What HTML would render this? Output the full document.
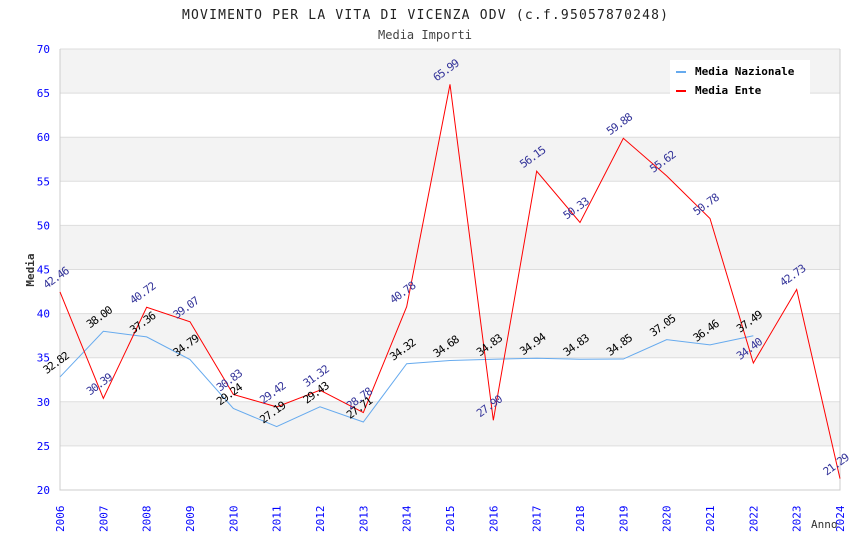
<!DOCTYPE html>
<html><head><meta charset="utf-8"><style>
body{margin:0;background:#fff;}
svg{display:block;font-family:"DejaVu Sans Mono","Liberation Mono",monospace;}
</style></head><body>
<svg id="chart" width="850" height="550">
<text x="425" y="19" text-anchor="middle" font-size="13" fill="#222" textLength="486">MOVIMENTO PER LA VITA DI VICENZA ODV (c.f.95057870248)</text>
<text x="425" y="39" text-anchor="middle" font-size="12" fill="#444">Media Importi</text>
<g id="bands"></g><g id="grid"></g><g id="axes"></g><g id="series"></g><g id="labels"></g>
<text transform="translate(34,270) rotate(-90)" text-anchor="middle" font-size="11" font-weight="bold" fill="#333">Media</text>
<text x="811" y="528" font-size="11" fill="#333">Anno</text>
<g>
<rect x="670" y="60" width="140" height="37" fill="#fff"/>
<rect x="676" y="71" width="10" height="2" fill="#66aaee"/>
<text x="695" y="75" font-size="11" font-weight="bold" fill="#000">Media Nazionale</text>
<rect x="676" y="90" width="10" height="2" fill="#ff0000"/>
<text x="695" y="94" font-size="11" font-weight="bold" fill="#000">Media Ente</text>
</g>
</svg>
<script>
const years=[2006,2007,2008,2009,2010,2011,2012,2013,2014,2015,2016,2017,2018,2019,2020,2021,2022,2023,2024];
const nazionale=[32.82,38.00,37.36,34.79,29.24,27.19,29.43,27.71,34.32,34.68,34.83,34.94,34.83,34.85,37.05,36.46,37.49];
const ente=[42.46,30.39,40.72,39.07,30.83,29.42,31.32,28.78,40.78,65.99,27.90,56.15,50.33,59.88,55.62,50.78,34.40,42.73,21.29];
const yTicks=[20,25,30,35,40,45,50,55,60,65,70];
const NS="http://www.w3.org/2000/svg";
const x0=60,x1=840,yTop=49,yBot=490,yMin=20,yMax=70;
function xs(i){return x0+i*(x1-x0)/(years.length-1);}
function ys(v){return yBot-(v-yMin)/(yMax-yMin)*(yBot-yTop);}
function mk(tag,attrs,parent){const e=document.createElementNS(NS,tag);for(const k in attrs)e.setAttribute(k,attrs[k]);document.getElementById(parent).appendChild(e);return e;}
for(let i=0;i<yTicks.length-1;i++){
  const b=mk('rect',{x:x0,y:ys(yTicks[i+1]),width:x1-x0,height:ys(yTicks[i])-ys(yTicks[i+1]),fill:(i%2===1)?'#f3f3f3':'#ffffff'},'bands');
  
  
}
yTicks.forEach(t=>{
  const l=mk('line',{x1:x0,x2:x1,y1:ys(t),y2:ys(t),stroke:'#dddddd','stroke-width':1},'grid');
  
  
  const tx=mk('text',{x:x0-10,y:ys(t)+4,'text-anchor':'end','font-size':11,fill:'#0000ff'},'axes');
  tx.textContent=t;
  
  
});
const ax=mk('path',{d:`M${x0},${yTop}V${yBot}H${x1}V${yTop}`,fill:'none',stroke:'#cccccc'},'axes');


years.forEach((y,i)=>{
  const t=mk('text',{transform:`translate(${xs(i)+4},${yBot+42}) rotate(-90)`,'font-size':11,fill:'#0000ff'},'axes');
  t.textContent=y;
  
  
});
function line(arr,color,name,lblColor){
  const p=mk('polyline',{points:arr.map((v,i)=>xs(i)+','+ys(v)).join(' '),fill:'none',stroke:color,'stroke-width':1},'series');
  
  
  arr.forEach((v,i)=>{
    const t=mk('text',{transform:`translate(${xs(i)-2},${ys(v)-11}) rotate(-36)`,'text-anchor':'middle','font-size':11,'letter-spacing':'-1',fill:lblColor},'labels');
    t.textContent=v.toFixed(2);
    
    
  });
}
line(nazionale,'#66aaee','line-media-nazionale','#000000');
line(ente,'#ff0000','line-media-ente','#333399');
</script>
</body></html>
